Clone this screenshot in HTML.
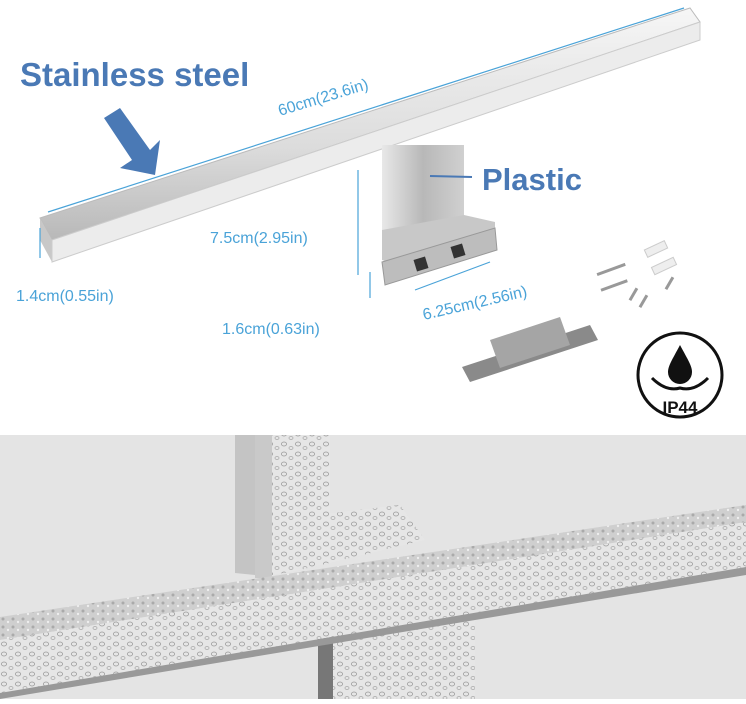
<!DOCTYPE html>
<html><head><style>
body{margin:0;width:746px;height:699px;overflow:hidden;background:#fff;font-family:"Liberation Sans",sans-serif}
</style></head><body>
<svg width="746" height="699" viewBox="0 0 746 699" xmlns="http://www.w3.org/2000/svg">
<defs>
<linearGradient id="bar" x1="0" y1="0" x2="0" y2="1"><stop offset="0" stop-color="#f6f6f6"/><stop offset="0.6" stop-color="#dcdcdc"/><stop offset="1" stop-color="#b8b8b8"/></linearGradient>
<linearGradient id="br" x1="0" y1="0" x2="1" y2="0"><stop offset="0" stop-color="#e8e8e8"/><stop offset="0.5" stop-color="#b8b8b8"/><stop offset="1" stop-color="#d0d0d0"/></linearGradient>
<pattern id="drops" width="14" height="10" patternUnits="userSpaceOnUse"><rect width="14" height="10" fill="#e6e6e6"/><ellipse cx="4" cy="4" rx="2.5" ry="2" fill="none" stroke="#9a9a9a" stroke-width="0.8"/><ellipse cx="11" cy="8" rx="2" ry="1.5" fill="none" stroke="#aaa" stroke-width="0.8"/></pattern>
<pattern id="drops2" width="10" height="8" patternUnits="userSpaceOnUse"><rect width="10" height="8" fill="#cfcfcf"/><circle cx="3" cy="3" r="1.5" fill="#aaa"/><circle cx="8" cy="6" r="1.2" fill="#eee"/></pattern>
</defs>
<polygon points="40,218 690,8 700,22 52,240" fill="url(#bar)" stroke="#bbb" stroke-width="1"/>
<polygon points="40,218 52,240 52,262 40,240" fill="#c8c8c8"/>
<polygon points="52,240 700,22 700,40 52,262" fill="#ececec" stroke="#ccc"/>
<rect x="382" y="145" width="82" height="100" fill="url(#br)"/>
<polygon points="382,230 464,215 495,222 495,245 410,270 382,260" fill="#c8c8c8"/>
<polygon points="382,262 495,228 497,250 385,285" fill="#bdbdbd" stroke="#999"/>
<rect x="415" y="258" width="12" height="12" fill="#333" transform="rotate(-17 421 264)"/>
<rect x="452" y="245" width="12" height="12" fill="#333" transform="rotate(-17 458 251)"/>
<polygon points="462,367 590,325 598,340 470,382" fill="#8a8a8a"/>
<polygon points="490,340 560,317 570,345 500,368" fill="#a5a5a5"/>
<g fill="#999"><rect x="645" y="245" width="22" height="8" transform="rotate(-25 656 249)" fill="#eee" stroke="#ccc"/><rect x="652" y="262" width="24" height="8" transform="rotate(-25 664 266)" fill="#eee" stroke="#ccc"/>
<rect x="596" y="268" width="30" height="3" transform="rotate(-20 611 269)"/><rect x="600" y="284" width="28" height="3" transform="rotate(-20 614 285)"/><rect x="626" y="293" width="14" height="3" transform="rotate(-60 633 294)"/><rect x="662" y="282" width="14" height="3" transform="rotate(-60 669 283)"/><rect x="636" y="300" width="14" height="3" transform="rotate(-60 643 301)"/></g>
<circle cx="680" cy="375" r="42" fill="#fff" stroke="#111" stroke-width="3"/>
<path d="M680 345 C672 360 668 366 668 372 A12 12 0 0 0 692 372 C692 366 688 360 680 345Z" fill="#111"/>
<path d="M652 378 Q666 392 680 388 Q694 392 708 378" fill="none" stroke="#111" stroke-width="3"/>
<text x="680" y="413" font-size="17" font-weight="bold" text-anchor="middle" fill="#111">IP44</text>
<g stroke="#4aa3d8" stroke-width="1.2" fill="none">
<line x1="48" y1="212" x2="684" y2="8"/>
<line x1="40" y1="228" x2="40" y2="258"/>
<line x1="358" y1="170" x2="358" y2="275"/>
<line x1="370" y1="272" x2="370" y2="298"/>
<line x1="415" y1="290" x2="490" y2="262"/>
</g>
<g fill="#4aa3d8" font-size="16">
<text x="280" y="116" transform="rotate(-17 280 116)">60cm(23.6in)</text>
<text x="16" y="301">1.4cm(0.55in)</text>
<text x="210" y="243">7.5cm(2.95in)</text>
<text x="222" y="334">1.6cm(0.63in)</text>
<text x="424" y="320" transform="rotate(-13 424 320)">6.25cm(2.56in)</text>
</g>
<text x="20" y="86" font-size="33" font-weight="bold" fill="#4a79b5">Stainless steel</text>
<text x="482" y="190" font-size="31" font-weight="bold" fill="#4a79b5">Plastic</text>
<line x1="430" y1="176" x2="472" y2="177" stroke="#4a79b5" stroke-width="2"/>
<polygon points="120,108 150,150 160,140 155,175 120,168 132,160 104,118" fill="#4a79b5"/>
<rect x="0" y="435" width="746" height="264" fill="#e4e4e4"/>
<polygon points="235,435 255,435 255,575 235,573" fill="#c4c4c4"/>
<rect x="270" y="435" width="60" height="90" fill="url(#drops)"/>
<polygon points="255,435 275,435 275,520 400,505 425,540 300,570 255,578" fill="url(#drops)"/>
<polygon points="255,435 272,435 272,578 255,578" fill="#c9c9c9"/>
<rect x="320" y="600" width="155" height="99" fill="url(#drops)"/>
<rect x="318" y="620" width="15" height="79" fill="#777"/>
<polygon points="0,617 746,505 746,522 0,640" fill="url(#drops2)"/>
<polygon points="0,640 746,522 746,567 0,693" fill="url(#drops)"/>
<polygon points="0,693 746,567 746,575 0,699" fill="#999"/>
</svg>
</body></html>
